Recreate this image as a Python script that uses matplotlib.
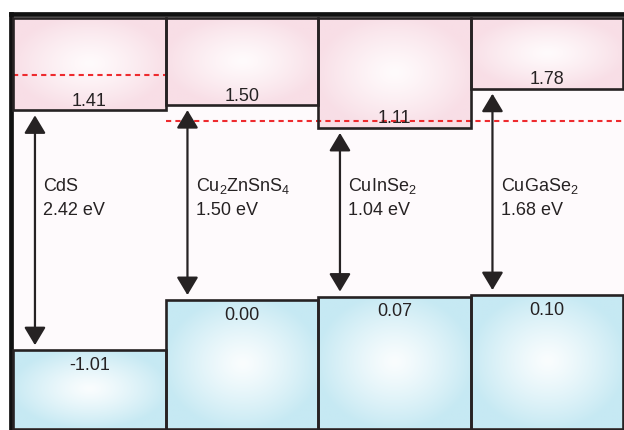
import numpy as np
import matplotlib
matplotlib.use("Agg")
import matplotlib.pyplot as plt
from matplotlib.ticker import NullLocator
from matplotlib.transforms import blended_transform_factory

plt.rcParams['font.family'] = ['Liberation Sans', 'DejaVu Sans']
plt.rcParams['mathtext.fontset'] = 'custom'
plt.rcParams['mathtext.rm'] = 'Liberation Sans'

# Band edge positions (eV) of the buffer layer and three absorbers
materials = ["CdS",
             r"Cu$_\mathregular{2}$ZnSnS$_\mathregular{4}$",
             r"CuInSe$_\mathregular{2}$",
             r"CuGaSe$_\mathregular{2}$"]
cb_edges = [1.41, 1.50, 1.11, 1.78]
vb_edges = [-1.01, 0.00, 0.07, 0.10]
# dashed reference levels: one over the CdS column, one across the absorbers
cds_level = 2.01
absorber_level = 1.23

INK = '#262223'
CB_EDGE, CB_CENTER = np.array([248, 222, 230]) / 255, np.array([255, 251, 252]) / 255
VB_EDGE, VB_CENTER = np.array([198, 233, 243]) / 255, np.array([250, 253, 254]) / 255

# Schematic energy axis: piecewise-linear, with the gap region expanded
E_KNOTS = np.array([-5.0, 0.3, 0.9, 5.0])
S_KNOTS = np.array([-549.1, -286.2, -141.2, 98.7])


def fwd(e):
    return np.interp(np.asarray(e, dtype=float), E_KNOTS, S_KNOTS)


def inv(s):
    return np.interp(np.asarray(s, dtype=float), S_KNOTS, E_KNOTS)


fig = plt.figure(figsize=(6.24, 4.31), dpi=100)
ax = fig.add_axes([10.5 / 624, 0.0, 1 - 10.5 / 624, 1 - 15 / 431])
ax.set_facecolor('#fefafc')
ax.set_yscale('function', functions=(fwd, inv))

y_top = inv(-15.0)
y_bot = inv(-431.0)
box_top = inv(-19.0)
box_bot = inv(-429.5)


def radial_fill(edge, center, nx=160, ny=100, power=1.2):
    yy, xx = np.mgrid[-1:1:ny * 1j, -1:1:nx * 1j]
    r = np.clip(np.hypot(xx, yy) / 1.05, 0, 1) ** power
    return center[None, None, :] * (1 - r)[..., None] + edge[None, None, :] * r[..., None]


n = len(materials)
x = np.arange(n)

# conduction-band blocks
for i, cb in enumerate(cb_edges):
    ax.imshow(radial_fill(CB_EDGE, CB_CENTER), extent=(i, i + 1, cb, box_top),
              aspect='auto', zorder=1, interpolation='bilinear')
ax.bar(x, [box_top - c for c in cb_edges], bottom=cb_edges, width=1, align='edge',
       facecolor='none', edgecolor=INK, linewidth=1.9, zorder=3)

# valence-band blocks
for i, vb in enumerate(vb_edges):
    ax.imshow(radial_fill(VB_EDGE, VB_CENTER), extent=(i, i + 1, box_bot, vb),
              aspect='auto', zorder=1, interpolation='bilinear')
ax.bar(x, [v - box_bot for v in vb_edges], bottom=box_bot, width=1, align='edge',
       facecolor='none', edgecolor=INK, linewidth=1.9, zorder=3)

# dashed reference levels
dash = dict(colors='#ee2a2e', linestyles=(0, (2.5, 2.0)), linewidth=1.5, zorder=2)
ax.hlines(cds_level, 0, 1, **dash)
ax.hlines(absorber_level, 1, n, **dash)

# band-edge values
for i, (cb, vb) in enumerate(zip(cb_edges, vb_edges)):
    ax.annotate(f"{cb:.2f}", (i + 0.5, cb), xytext=(0, 5.5), textcoords='offset pixels',
                ha='center', va='baseline', fontsize=13, color=INK, zorder=4)
    ax.annotate(f"{vb:.2f}", (i + 0.5, vb), xytext=(0, -18.5), textcoords='offset pixels',
                ha='center', va='baseline', fontsize=13, color=INK, zorder=4)

# band-gap arrows and labels
blend = blended_transform_factory(ax.transData, ax.transAxes)
for i, (name, cb, vb) in enumerate(zip(materials, cb_edges, vb_edges)):
    xa = i + 0.144
    ax.annotate('', xy=(xa, cb), xytext=(xa, vb),
                arrowprops=dict(arrowstyle='<|-|>,head_length=0.55,head_width=0.33',
                                mutation_scale=20, lw=1.6, color=INK,
                                shrinkA=3.6, shrinkB=3.6), zorder=4)
    xt = i + 0.197
    ax.text(xt, 1 - (191.5 - 15) / 416, name, transform=blend, ha='left',
            va='baseline', fontsize=13, color=INK)
    ax.text(xt, 1 - (215.5 - 15) / 416, f"{cb - vb:.2f} eV", transform=blend,
            ha='left', va='baseline', fontsize=13, color=INK)

ax.set_xlim(-2.5 / 152.5, n + 1 / 152.5)
ax.set_ylim(y_bot, y_top)
ax.set_xticks([])
ax.set_yticks([])
ax.yaxis.set_minor_locator(NullLocator())
ax.xaxis.set_minor_locator(NullLocator())
for side in ('right', 'bottom'):
    ax.spines[side].set_visible(False)
for side in ('left', 'top'):
    ax.spines[side].set_linewidth(3.4)
    ax.spines[side].set_color('#111111')

fig.savefig('out.png', dpi=100, facecolor='white')
